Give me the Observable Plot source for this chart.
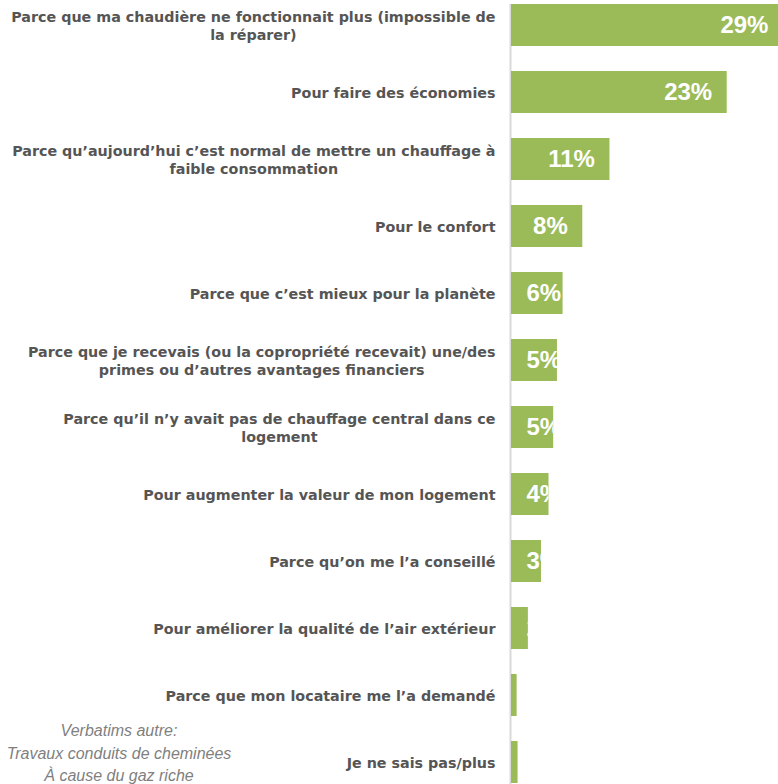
<!DOCTYPE html>
<html><head><meta charset="utf-8">
<script src="https://cdn.jsdelivr.net/npm/d3@7"></script>
<script src="https://cdn.jsdelivr.net/npm/@observablehq/plot@0.6"></script>
<style>
html,body{margin:0;padding:0;background:#fff;}
#wrap{position:relative;width:778px;height:784px;overflow:hidden;}
#note{position:absolute;left:0;width:238px;top:720px;text-align:center;font:italic 16px "Liberation Sans",Arial,sans-serif;color:#7f7f7f;line-height:22.5px;}
</style></head><body>
<div id="wrap"><div id="chart"></div><div id="note"></div></div>
<script>
const categories = [
  "Parce que ma chaudière ne fonctionnait plus (impossible de\nla réparer)",
  "Pour faire des économies",
  "Parce qu’aujourd’hui c’est normal de mettre un chauffage à\nfaible consommation",
  "Pour le confort",
  "Parce que c’est mieux pour la planète",
  "Parce que je recevais (ou la copropriété recevait) une/des\nprimes ou d’autres avantages financiers",
  "Parce qu’il n’y avait pas de chauffage central dans ce\nlogement",
  "Pour augmenter la valeur de mon logement",
  "Parce qu’on me l’a conseillé",
  "Pour améliorer la qualité de l’air extérieur",
  "Parce que mon locataire me l’a demandé",
  "Je ne sais pas/plus"
];
const values = [29, 23, 10.5, 7.6, 5.5, 4.9, 4.5, 4.0, 3.2, 1.8, 0.6, 0.7];
const valueLabels = ["29%", "23%", "11%", "8%", "6%", "5%", "5%", "4%", "3%", "2%", "1%", "1%"];
const noteLines = ["Verbatims autre:", "Travaux conduits de cheminées", "À cause du gaz riche"];

const data = categories.map((c, i) => ({category: c, value: values[i], label: valueLabels[i]}));
const GREEN = "#9bbb59";

document.getElementById("note").innerHTML = noteLines.join("<br>");

const pctStyle = {fill: "#fff", fontSize: 24, fontWeight: "bold", fontFamily: "Liberation Sans, Arial, sans-serif"};

const chart = Plot.plot({
  width: 778, height: 784,
  marginLeft: 511, marginRight: 0, marginTop: 4, marginBottom: 0,
  x: {domain: [0, 28.47], axis: null},
  y: {domain: categories, paddingInner: 0.37, paddingOuter: 0, axis: null},
  style: {background: "#fff"},
  marks: [
    Plot.ruleX([0], {stroke: "#d9d9d9", strokeWidth: 2, dx: -1}),
    Plot.barX(data, {x: "value", y: "category", fill: GREEN}),
    Plot.text(data.filter(d => d.value >= 7), {x: "value", y: "category", text: "label", textAnchor: "end", dx: -15, ...pctStyle}),
    Plot.text(data.filter(d => d.value < 7), {x: 0, y: "category", text: "label", textAnchor: "start", dx: 15, ...pctStyle}),
    Plot.text(data, {x: 0, y: "category", text: "category", textAnchor: "end", dx: -16, fill: "#555555", fontSize: 14.3, fontWeight: "bold", fontFamily: "DejaVu Sans, Verdana, sans-serif", lineHeight: 1.25})
  ]
});
document.getElementById("chart").append(chart);

const svg = d3.select(chart);
// clip the percentage labels to the bars
const defs = svg.insert("defs", ":first-child");
const cp = defs.append("clipPath").attr("id", "barclip").attr("clipPathUnits", "userSpaceOnUse");
const barG = svg.select('g[aria-label="bar"]');
const barT = barG.attr("transform");
barG.selectAll("rect").each(function () {
  const r = d3.select(this);
  const c = cp.append("rect")
    .attr("x", r.attr("x")).attr("y", r.attr("y"))
    .attr("width", r.attr("width")).attr("height", r.attr("height"));
  if (barT) c.attr("transform", barT);
});
const textGroups = svg.selectAll('g[aria-label="text"]').nodes();
[textGroups[0], textGroups[1]].forEach(g => {
  if (!g) return;
  const wrap = document.createElementNS("http://www.w3.org/2000/svg", "g");
  wrap.setAttribute("clip-path", "url(#barclip)");
  g.parentNode.insertBefore(wrap, g);
  wrap.appendChild(g);
});
// centre multi-line category labels within their right-aligned block
const catG = textGroups[2];
d3.select(catG).selectAll("text").each(function () {
  const tspans = d3.select(this).selectAll("tspan").nodes();
  if (tspans.length < 2) return;
  const maxLen = d3.max(tspans, t => t.getComputedTextLength());
  tspans.forEach(t => {
    const cur = parseFloat(t.getAttribute("x")) || 0;
    t.setAttribute("x", cur - maxLen / 2);
    t.setAttribute("text-anchor", "middle");
  });
});
</script>
</body></html>
